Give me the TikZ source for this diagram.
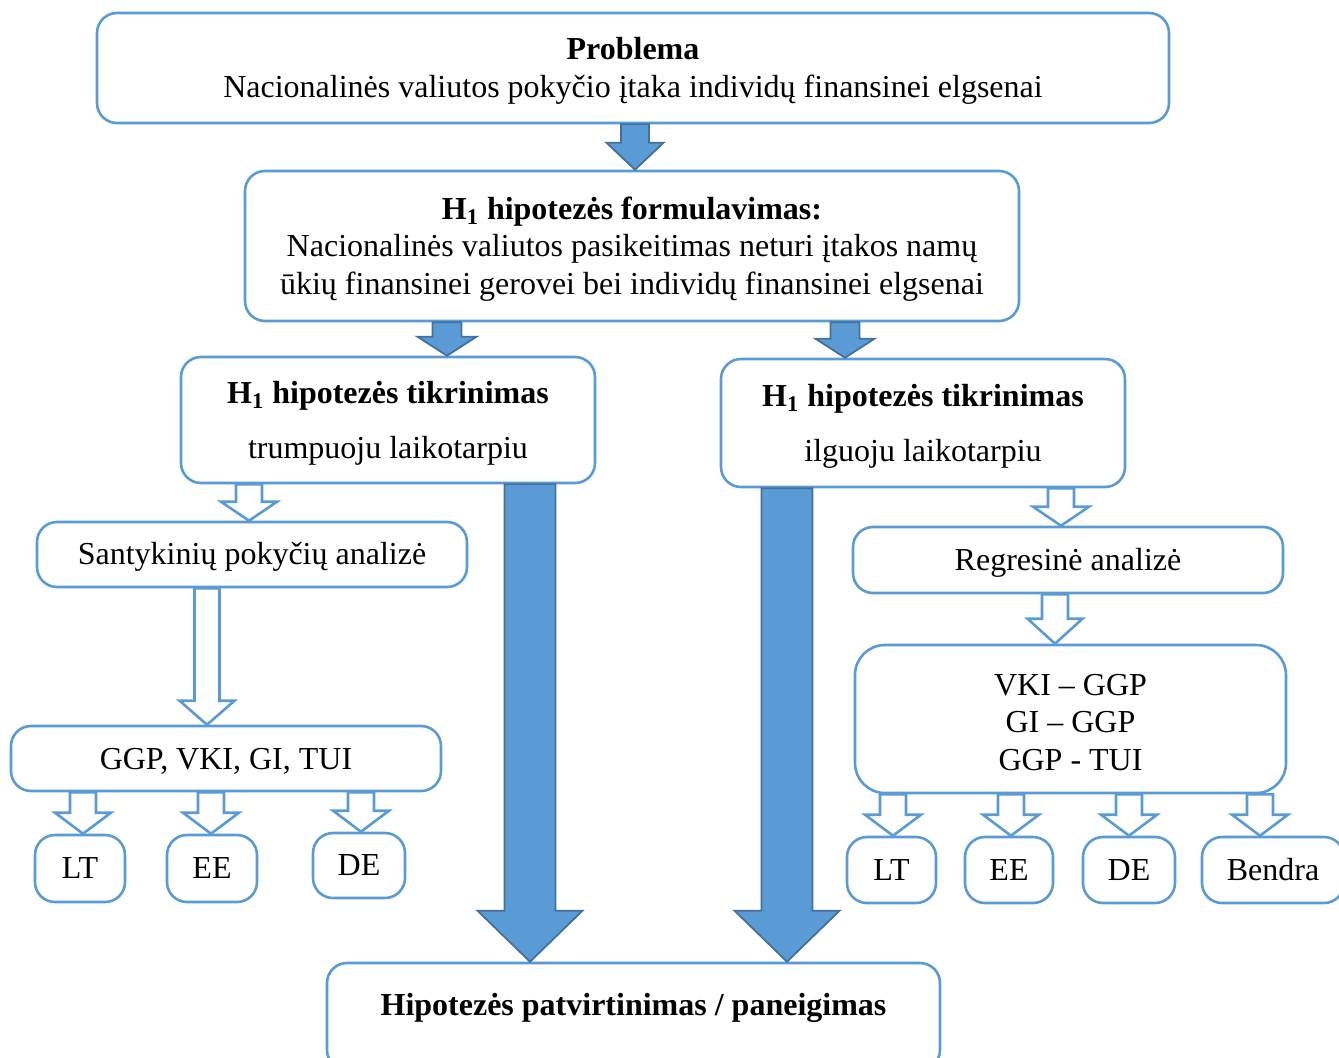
\documentclass[tikz,border=0pt]{standalone}
\usepackage{fontspec}
\setmainfont{Liberation Serif}
\usetikzlibrary{calc}

\definecolor{boxblue}{RGB}{91,155,213}
\definecolor{edgeblue}{RGB}{65,113,156}

\newcommand{\topgap}{\rule{0pt}{14pt}}
\newcommand{\blockarrow}[6]{%
  \path[#1] let \p1=#2, \p2=#3 in
    (\x1-#4,\y1) -- (\x1+#4,\y1) -- (\x1+#4,\y2+#6) -- (\x1+#5,\y2+#6)
    -- (\x1,\y2) -- (\x1-#5,\y2+#6) -- (\x1-#4,\y2+#6) -- cycle;}

\tikzset{
  box/.style={draw=boxblue, line width=1.3pt, rounded corners=10pt, fill=white,
    inner sep=0pt, align=center, font=\fontsize{16}{18.75}\selectfont},
  oneline/.style={text height=13.5pt},
  fullarrow/.style={fill=boxblue, draw=edgeblue, line width=0.9pt},
  openarrow/.style={fill=white, draw=boxblue, line width=1.3pt}
}

\begin{document}
\begin{tikzpicture}[x=0.5pt, y=-0.5pt]
            \useasboundingbox (0,0) rectangle (1339,1057);
            \clip (0,0) rectangle (1339,1057);

            \begin{scope}[every node/.style={box}]
                \node[minimum width=536pt, minimum height=55pt] (prob) at (633,68)
                    {\topgap\textbf{Problema}\\Nacionalinės valiutos pokyčio įtaka individų finansinei elgsenai};
                \node[minimum width=387pt, minimum height=75pt] (form) at (632,246)
                    {\topgap\textbf{H\textsubscript{1} hipotezės formulavimas:}\\Nacionalinės valiutos pasikeitimas neturi įtakos namų\\ūkių finansinei gerovei bei individų finansinei elgsenai};
                \node[minimum width=207pt, minimum height=63pt] (shortterm) at (388,420)
                    {\topgap\textbf{H\textsubscript{1} hipotezės tikrinimas}\\[8.75pt]trumpuoju laikotarpiu};
                \node[minimum width=202pt, minimum height=64pt] (longterm) at (923,423)
                    {\topgap\textbf{H\textsubscript{1} hipotezės tikrinimas}\\[8.75pt]ilguoju laikotarpiu};
                \node[oneline, minimum width=215pt, minimum height=32.5pt] (relchg) at (252,554.5) {Santykinių pokyčių analizė};
                \node[oneline, minimum width=215pt, minimum height=32.5pt] (svars) at (226,758.5) {GGP, VKI, GI, TUI};
                \node[minimum width=45pt, minimum height=33.5pt] (lt1) at (80,868.5) {LT};
                \node[minimum width=45pt, minimum height=33.5pt] (ee1) at (212,868.5) {EE};
                \node[minimum width=46pt, minimum height=32.5pt] (de1) at (359,865.5) {DE};
                \node[oneline, minimum width=215pt, minimum height=33pt] (regr) at (1068,560) {Regresinė analizė};
                \node[minimum width=215.5pt, minimum height=74pt, rounded corners=15pt] (pairs) at (1070.5,719)
                    {\topgap VKI – GGP\\GI – GGP\\GGP - TUI};
                \node[minimum width=44.5pt, minimum height=33pt] (lt2) at (891.5,870) {LT};
                \node[minimum width=44pt, minimum height=33pt] (ee2) at (1009,870) {EE};
                \node[minimum width=46pt, minimum height=33pt] (de2) at (1129,870) {DE};
                \node[minimum width=71pt, minimum height=33pt] (all2) at (1273,870) {Bendra};
                \node[minimum width=306.5pt, minimum height=53.5pt, text height=11pt, text depth=12pt] (result) at (633.5,1016.5)
                    {\textbf{Hipotezės patvirtinimas / paneigimas}};
            \end{scope}

            \foreach \n/\x in {ap/635, al/447, ar/845, bl/530, br/787, h1/249, h2/207, h3/83, h4/211, h5/361,
                               r1/1061, r2/1055, r3/893, r4/1011, r5/1129, r6/1260}
                \coordinate (\n) at (\x,0);

            \blockarrow{fullarrow}{(prob.south -| ap)}{(form.north -| ap)}{7pt}{14.25pt}{13.5pt}
            \blockarrow{fullarrow}{(form.south -| al)}{(shortterm.north -| al)}{7.25pt}{14.75pt}{9.5pt}
            \blockarrow{fullarrow}{(form.south -| ar)}{(longterm.north -| ar)}{7.25pt}{14.75pt}{9.5pt}
            \blockarrow{fullarrow}{(shortterm.south -| bl)}{(result.north -| bl)}{12.75pt}{26.25pt}{25.5pt}
            \blockarrow{fullarrow}{(longterm.south -| br)}{(result.north -| br)}{12.75pt}{26.25pt}{25.5pt}

            \blockarrow{openarrow}{(shortterm.south -| h1)}{(relchg.north -| h1)}{6.5pt}{14pt}{9.5pt}
            \blockarrow{openarrow}{(relchg.south -| h2)}{(svars.north -| h2)}{6.25pt}{13.75pt}{12pt}
            \foreach \c/\t in {h3/lt1, h4/ee1, h5/de1}
                \blockarrow{openarrow}{(svars.south -| \c)}{(\t.north -| \c)}{6.5pt}{14pt}{10.5pt};

            \blockarrow{openarrow}{(longterm.south -| r1)}{(regr.north -| r1)}{6.5pt}{14pt}{9.5pt}
            \blockarrow{openarrow}{(regr.south -| r2)}{(pairs.north -| r2)}{6.5pt}{13.75pt}{12.5pt}
            \foreach \c/\t in {r3/lt2, r4/ee2, r5/de2, r6/all2}
                \blockarrow{openarrow}{(pairs.south -| \c)}{(\t.north -| \c)}{6.5pt}{14pt}{10.5pt};
        \end{tikzpicture}
\end{document}
